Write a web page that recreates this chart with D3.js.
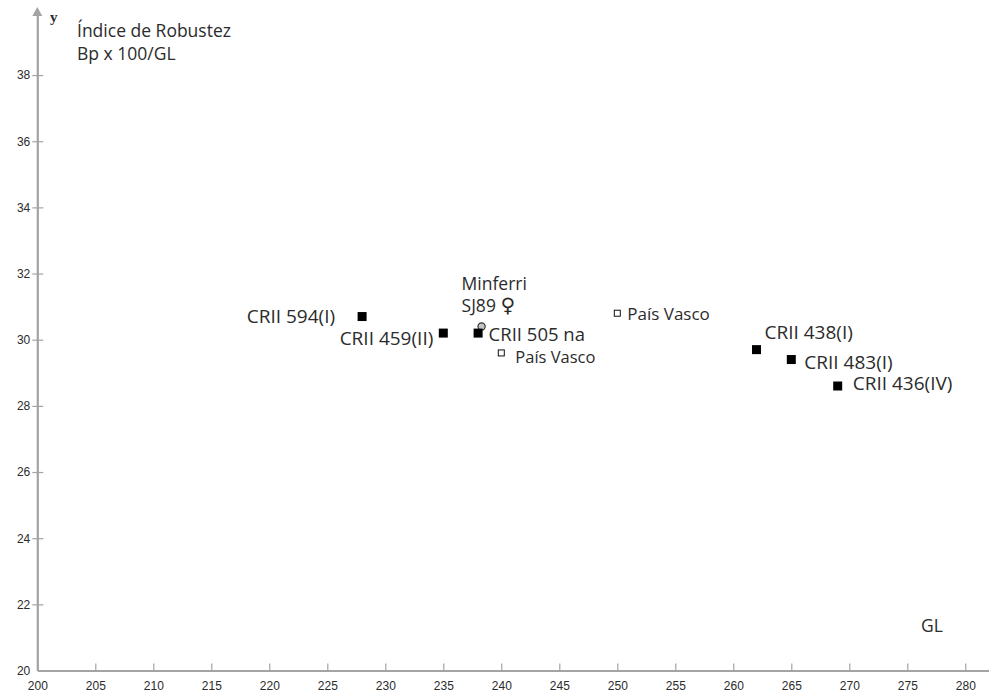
<!DOCTYPE html>
<html>
<head>
<meta charset="utf-8">
<script src="https://cdn.jsdelivr.net/npm/d3@7"></script>
<style>
  html, body { margin: 0; padding: 0; background: #fff; }
  svg { display: block; }
</style>
</head>
<body>
<svg id="chart" width="990" height="695"></svg>
<script>
// Specimens: GL (greatest length) vs robustness index Bp x 100 / GL
const specimens = ["CRII 594(I)", "CRII 459(II)", "CRII 505 na", "Minferri SJ89", "País Vasco", "País Vasco", "CRII 438(I)", "CRII 483(I)", "CRII 436(IV)"];
const glValues = [228, 235, 238, 238.3, 240, 250, 262, 265, 269];
const robustness = [30.7, 30.2, 30.2, 30.4, 29.6, 30.8, 29.7, 29.4, 28.6];
const markerKind = ["filled", "filled", "filled", "circle", "open", "open", "filled", "filled", "filled"];

const xTicks = [200, 205, 210, 215, 220, 225, 230, 235, 240, 245, 250, 255, 260, 265, 270, 275, 280];
const yTicks = [20, 22, 24, 26, 28, 30, 32, 34, 36, 38];

const svg = d3.select("#chart");
const axisColor = "#a3a3a3";
const textColor = "#2b2b2b";
const labelFont = "'Open Sans', 'Noto Sans', sans-serif";
const tickFont = "'Liberation Sans', Arial, sans-serif";

const x = d3.scaleLinear().domain([200, 282]).range([37.3, 988.5]);
const y = d3.scaleLinear().domain([20, 40]).range([670.5, 8.9]);

// X axis: line with upward ticks, labels below
const xAxis = svg.append("g").attr("transform", `translate(0,${y(20)})`)
  .call(d3.axisBottom(x).tickValues(xTicks).tickSize(0).tickPadding(11).tickFormat(d3.format("d")));
xAxis.select(".domain").attr("stroke", axisColor).attr("stroke-width", 2.2);
xAxis.selectAll(".tick line").attr("y1", -7).attr("y2", 0).attr("stroke", axisColor).attr("stroke-width", 1.2);
xAxis.selectAll(".tick text").attr("fill", textColor).attr("font-family", tickFont).attr("font-size", 12);

// Y axis: ticks across the line, labels to the left
const yAxis = svg.append("g").attr("transform", `translate(${x(200)},0)`)
  .call(d3.axisLeft(y).tickValues(yTicks).tickSize(0).tickPadding(7).tickFormat(d3.format("d")));
yAxis.select(".domain").attr("stroke", axisColor).attr("stroke-width", 2.2);
yAxis.selectAll(".tick line").attr("x1", -5).attr("x2", 6).attr("stroke", axisColor).attr("stroke-width", 1.2)
  .filter(d => d === 20).remove();
yAxis.selectAll(".tick text").attr("fill", textColor).attr("font-family", tickFont).attr("font-size", 12);

// arrow head at the top of the y axis
const ax = x(200), ay = y(40);
svg.append("path")
  .attr("d", `M${ax},${ay - 2} L${ax - 5},${ay + 7} L${ax + 5},${ay + 7} Z`)
  .attr("fill", axisColor);

// axis titles
svg.append("text").attr("x", 50).attr("y", 22).text("y")
  .attr("font-family", "'Liberation Serif', 'Times New Roman', serif").attr("font-weight", "bold")
  .attr("font-size", 15).attr("fill", textColor);
svg.append("text").attr("x", 77).attr("y", 37).text("Índice de Robustez")
  .attr("font-family", labelFont).attr("font-size", 17.5).attr("fill", textColor);
svg.append("text").attr("x", 77).attr("y", 60).text("Bp x 100/GL")
  .attr("font-family", labelFont).attr("font-size", 17.5).attr("fill", textColor);
svg.append("text").attr("x", 921).attr("y", 632).text("GL")
  .attr("font-family", labelFont).attr("font-size", 17.5).attr("fill", textColor);

const pts = specimens.map((name, i) => ({ name, gl: glValues[i], r: robustness[i], kind: markerKind[i], i }));

// markers
const g = svg.append("g");
pts.filter(p => p.kind === "circle").forEach(p => {
  g.append("circle").attr("cx", x(p.gl)).attr("cy", y(p.r)).attr("r", 3.6)
    .attr("fill", "#c4c4c4").attr("stroke", "#333").attr("stroke-width", 1.2);
});
pts.filter(p => p.kind === "filled").forEach(p => {
  g.append("rect").attr("x", x(p.gl) - 4.5).attr("y", y(p.r) - 4.5).attr("width", 9).attr("height", 9).attr("fill", "#000");
});
pts.filter(p => p.kind === "open").forEach(p => {
  g.append("rect").attr("x", x(p.gl) - 3).attr("y", y(p.r) - 3).attr("width", 6).attr("height", 6)
    .attr("fill", "#fff").attr("stroke", "#111").attr("stroke-width", 1);
});

// label placement around each marker: [dx, dy, anchor, font size]
const labelPlace = [
  [-27, 6.5, "end", 19], [-10, 12, "end", 19], [10.5, 8, "start", 18.5], [-20, -36, "start", 17.5],
  [14, 10, "start", 16.5], [10, 6.6, "start", 17], [8, -11, "start", 19], [13, 9, "start", 19], [15, 3.5, "start", 19]
];
const lab = svg.append("g").attr("font-family", labelFont).attr("fill", textColor);
pts.forEach(p => {
  const [dx, dy, anchor, size] = labelPlace[p.i];
  const px = x(p.gl), py = y(p.r);
  if (p.kind === "circle") {
    const parts = p.name.split(" ");
    lab.append("text").attr("x", px + dx).attr("y", py + dy).attr("font-size", size).text(parts[0]);
    const t = lab.append("text").attr("x", px + dx).attr("y", py + dy + 22).attr("font-size", size);
    t.append("tspan").text(parts[1] + " ");
    t.append("tspan").attr("font-family", "'DejaVu Sans', sans-serif").attr("font-size", 20).attr("font-weight", "bold").text("♀");
  } else {
    lab.append("text").attr("x", px + dx).attr("y", py + dy).attr("text-anchor", anchor)
      .attr("font-size", size).text(p.name);
  }
});
</script>
</body>
</html>
